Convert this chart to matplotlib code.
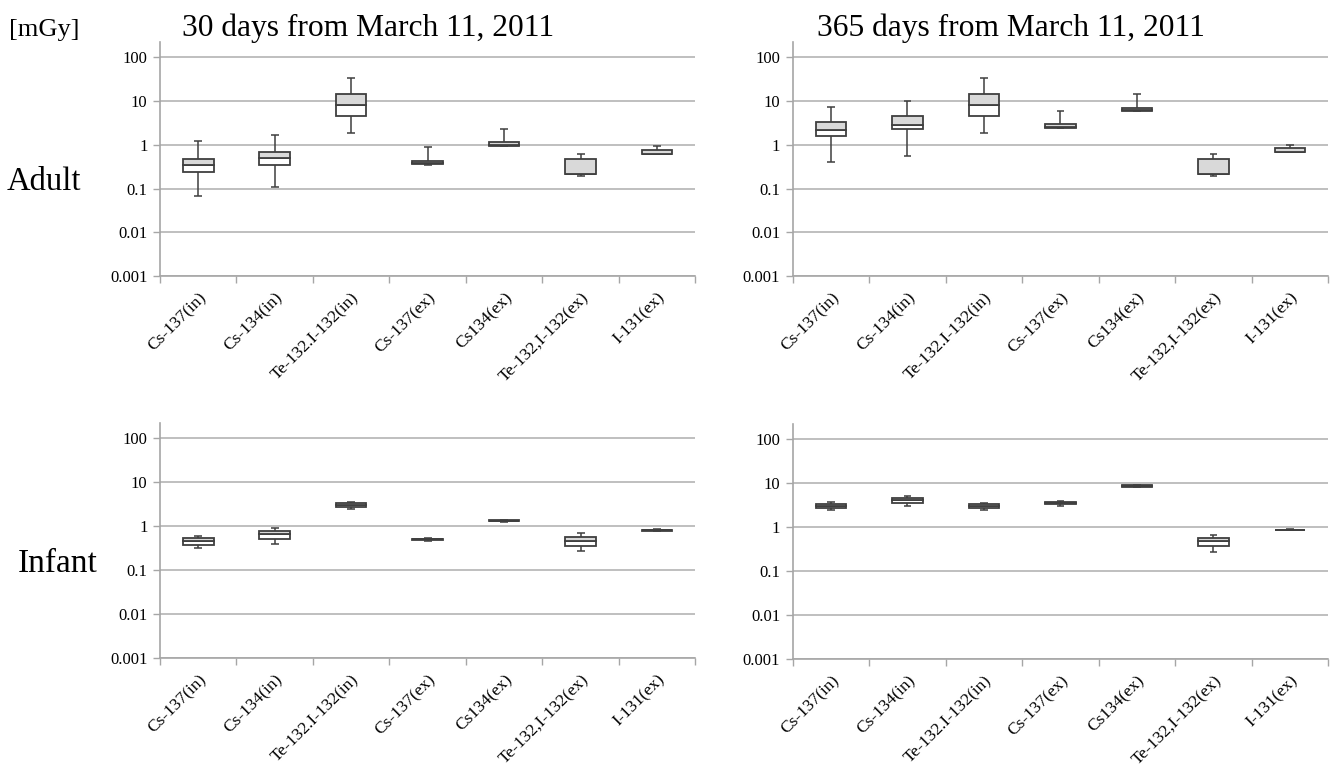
import numpy as np
import matplotlib.pyplot as plt

categories = ['Cs-137(in)', 'Cs-134(in)', 'Te-132.I-132(in)', 'Cs-137(ex)',
              'Cs134(ex)', 'Te-132,I-132(ex)', 'I-131(ex)']
ytick_vals = [0.001, 0.01, 0.1, 1, 10, 100]
ytick_labels = ['0.001', '0.01', '0.1', '1', '10', '100']

# adult, 30 days
adult30_lo = [0.069, 0.106, 1.88, 0.35, 0.93, 0.19, 0.61]
adult30_q1 = [0.234, 0.34, 4.66, 0.36, 0.95, 0.21, 0.61]
adult30_med = [0.34, 0.51, 8.0, 0.38, 0.97, 0.21, 0.61]
adult30_q3 = [0.48, 0.70, 14.8, 0.43, 1.15, 0.48, 0.78]
adult30_hi = [1.19, 1.69, 34.3, 0.885, 2.3, 0.62, 0.93]

# adult, 365 days
adult365_lo = [0.40, 0.56, 1.88, 2.40, 5.8, 0.19, 0.67]
adult365_q1 = [1.63, 2.24, 4.66, 2.44, 5.85, 0.21, 0.67]
adult365_med = [2.16, 2.86, 8.0, 2.55, 6.2, 0.21, 0.67]
adult365_q3 = [3.34, 4.66, 14.8, 3.01, 6.97, 0.48, 0.85]
adult365_hi = [7.2, 9.9, 34.3, 5.85, 14.3, 0.62, 0.97]

# infant, 30 days
infant30_lo = [0.31, 0.40, 2.48, 0.46, 1.25, 0.265, 0.78]
infant30_q1 = [0.38, 0.52, 2.7, 0.48, 1.28, 0.36, 0.79]
infant30_med = [0.45, 0.65, 3.0, 0.50, 1.32, 0.456, 0.81]
infant30_q3 = [0.53, 0.78, 3.33, 0.52, 1.36, 0.57, 0.83]
infant30_hi = [0.61, 0.885, 3.6, 0.53, 1.39, 0.68, 0.855]

# infant, 365 days
infant365_lo = [2.46, 2.98, 2.5, 3.08, 8.0, 0.268, 0.84]
infant365_q1 = [2.73, 3.6, 2.73, 3.42, 8.3, 0.37, 0.85]
infant365_med = [3.08, 4.14, 2.96, 3.55, 8.6, 0.475, 0.86]
infant365_q3 = [3.42, 4.67, 3.3, 3.66, 8.9, 0.57, 0.88]
infant365_hi = [3.73, 5.09, 3.54, 3.86, 9.2, 0.67, 0.90]

SERIF = 'Liberation Serif'
EDGE = '#3f3f3f'
GRID = '#bfbfbf'


def draw_panel(ax, lo, q1, med, q3, hi):
    x = np.arange(len(categories))
    # lower half white, upper half grey
    ax.bar(x, np.subtract(med, q1), bottom=q1, width=0.4, color='white',
           edgecolor=EDGE, linewidth=1.3, zorder=3)
    ax.bar(x, np.subtract(q3, med), bottom=med, width=0.4, color='#d9d9d9',
           edgecolor=EDGE, linewidth=1.3, zorder=3)
    ax.vlines(x, q3, hi, color=EDGE, linewidth=1.1, zorder=2)
    ax.vlines(x, lo, q1, color=EDGE, linewidth=1.1, zorder=2)
    ax.hlines(hi, x - 0.05, x + 0.05, color=EDGE, linewidth=1.1, zorder=2)
    ax.hlines(lo, x - 0.05, x + 0.05, color=EDGE, linewidth=1.1, zorder=2)

    ax.set_yscale('log')
    ax.set_ylim(0.001, 220)
    ax.set_xlim(-0.5, len(categories) - 0.5)
    ax.set_yticks(ytick_vals)
    ax.set_yticklabels(ytick_labels, family=SERIF, fontsize=12)
    ax.minorticks_off()
    ax.yaxis.grid(True, color=GRID, linewidth=1.4)
    ax.set_axisbelow(True)

    ax.set_xticks(x)
    ax.set_xticklabels(categories, rotation=45, ha='right', va='top',
                       rotation_mode='anchor', family=SERIF, fontsize=12.5)
    ax.set_xticks(np.arange(len(categories) + 1) - 0.5, minor=True)
    ax.tick_params(axis='x', which='major', length=0, pad=10)
    ax.tick_params(axis='x', which='minor', length=5, color='#a6a6a6', width=1)
    ax.tick_params(axis='y', length=5, color='#a6a6a6', width=1, pad=4)

    for side in ['top', 'right']:
        ax.spines[side].set_visible(False)
    for side in ['left', 'bottom']:
        ax.spines[side].set_color('#a6a6a6')
        ax.spines[side].set_linewidth(1.2)


fig = plt.figure(figsize=(13.33, 7.69), dpi=100)

ax1 = fig.add_axes([0.120, 0.641, 0.4017, 0.304])
ax2 = fig.add_axes([0.5947, 0.641, 0.4017, 0.304])
ax3 = fig.add_axes([0.120, 0.1443, 0.4017, 0.3056])
ax4 = fig.add_axes([0.5947, 0.1430, 0.4017, 0.3056])

draw_panel(ax1, adult30_lo, adult30_q1, adult30_med, adult30_q3, adult30_hi)
draw_panel(ax2, adult365_lo, adult365_q1, adult365_med, adult365_q3, adult365_hi)
draw_panel(ax3, infant30_lo, infant30_q1, infant30_med, infant30_q3, infant30_hi)
draw_panel(ax4, infant365_lo, infant365_q1, infant365_med, infant365_q3, infant365_hi)

fig.text(9 / 1333, 1 - 36 / 769, '[mGy]', family=SERIF, fontsize=19, va='baseline')
fig.text(182 / 1333, 1 - 36 / 769, '30 days from March 11, 2011', family=SERIF,
         fontsize=22.7, va='baseline')
fig.text(817 / 1333, 1 - 36 / 769, '365 days from March 11, 2011', family=SERIF,
         fontsize=22.7, va='baseline')
fig.text(7 / 1333, 1 - 190 / 769, 'Adult', family=SERIF, fontsize=23.5, va='baseline')
fig.text(18 / 1333, 1 - 572 / 769, 'Infant', family=SERIF, fontsize=24, va='baseline')

fig.savefig('out.png', dpi=100)
